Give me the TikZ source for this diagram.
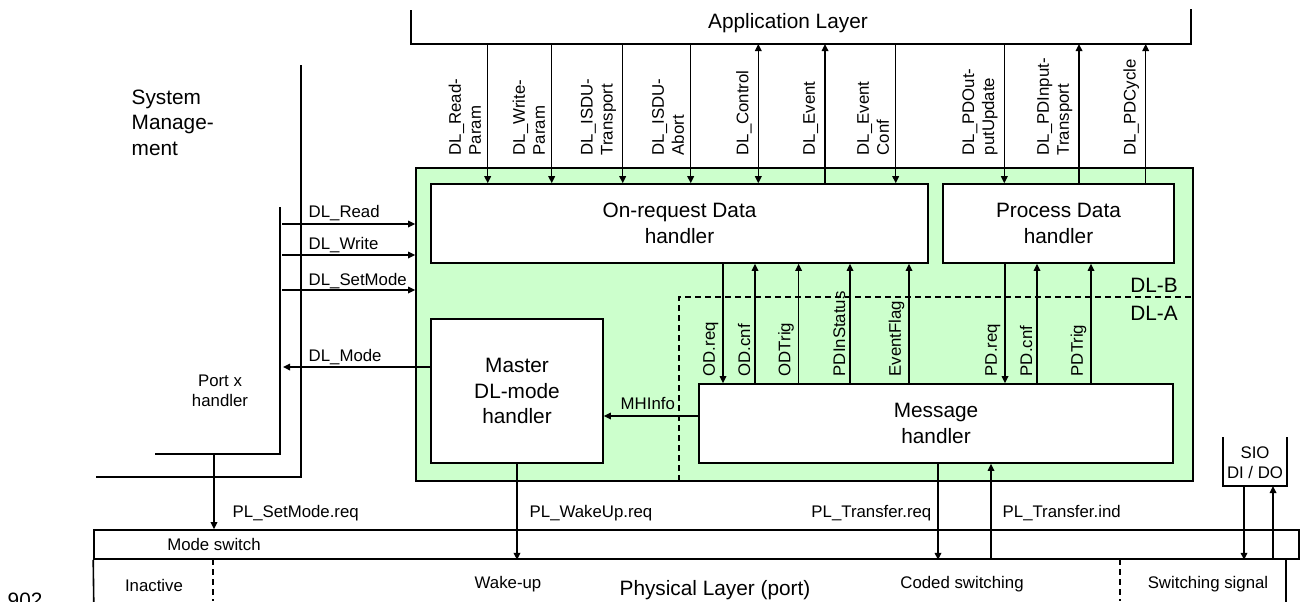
\documentclass[tikz,border=0pt]{standalone}
\usepackage{fontspec}
\setmainfont{Liberation Sans}
\usetikzlibrary{arrows.meta}

\begin{document}
\begin{tikzpicture}[x=0.5pt,y=-0.5pt,line width=0.7pt,>={Triangle[length=3.5pt,width=3.3pt]},
    big_text/.style={font=\fontsize{10.4}{12.75}\selectfont},
    small_text/.style={font=\fontsize{8.4}{10}\selectfont},
    handler_node/.style={draw,line width=0.8pt,fill=white,align=center,inner sep=0pt,big_text},
    sig_label/.style={small_text,rotate=90,anchor=south west,align=left,inner sep=0pt},
    flat_label/.style={small_text,inner sep=0pt},
    layer_sep/.style={dash pattern=on 3pt off 2pt}]
    \useasboundingbox (0,0) rectangle (1311,601);

    % data link layer
    \node[draw,line width=0.8pt,fill=green!20,minimum width=388.5pt,minimum height=156.5pt] (dl) at (804.5,324.5) {};
    \node[handler_node,minimum width=248.5pt,minimum height=39.5pt] (odh) at (679.5,223.5) {On-request Data\\handler};
    \node[handler_node,minimum width=115.5pt,minimum height=39.5pt] (pdh) at (1058.5,223.5) {Process Data\\handler};
    \node[handler_node,minimum width=86pt,minimum height=72pt] (master) at (517,391) {Master\\DL-mode\\handler};
    \node[handler_node,minimum width=237pt,minimum height=39.5pt] (mh) at (936,423.5) {Message\\handler};
    \draw[layer_sep] (679,481) -- (679,297) -- (1193,297);
    \node[big_text,anchor=east] (dlb) at (1185,285) {DL-B};
    \node[big_text,anchor=east] (dla) at (1185,313) {DL-A};

    % application layer
    \draw[line width=0.8pt] (411,10) -- (411,44) -- (1191,44) -- (1191,9);
    \node[big_text] (app) at (788,23) {Application Layer};

    \coordinate (rp) at (487.7,44);
    \coordinate (wp) at (551.7,44);
    \coordinate (it) at (622.7,44);
    \coordinate (ia) at (690.7,44);
    \coordinate (ctl) at (758.3,44);
    \coordinate (ev) at (825,44);
    \coordinate (evc) at (895.7,44);
    \coordinate (pdo) at (1004.3,44);
    \coordinate (pdi) at (1079,44);
    \coordinate (pdc) at (1145.7,44);
    \draw[->] (rp) -- (rp |- odh.north);
    \draw[->] (wp) -- (wp |- odh.north);
    \draw[->] (it) -- (it |- odh.north);
    \draw[->] (ia) -- (ia |- odh.north);
    \draw[<->] (ctl) -- (ctl |- odh.north);
    \draw[->] (ev |- odh.north) -- (ev);
    \draw[->] (evc) -- (evc |- odh.north);
    \draw[->] (pdo) -- (pdo |- pdh.north);
    \draw[->] (pdi |- pdh.north) -- (pdi);
    \draw[->] (pdc |- pdh.north) -- (pdc);
    \node[sig_label] at (481.7,156) {DL\_Read-\\Param};
    \node[sig_label] at (545.7,156) {DL\_Write-\\Param};
    \node[sig_label] at (616.7,156) {DL\_ISDU-\\Transport};
    \node[sig_label] at (684.7,156) {DL\_ISDU-\\Abort};
    \node[sig_label] at (752.3,156) {DL\_Control};
    \node[sig_label] at (819,156) {DL\_Event};
    \node[sig_label] at (889.7,156) {DL\_Event\\Conf};
    \node[sig_label] at (998.3,156) {DL\_PDOut-\\putUpdate};
    \node[sig_label] at (1073,156) {DL\_PDInput-\\Transport};
    \node[sig_label] at (1139.7,156) {DL\_PDCycle};

    % handler to message handler
    \coordinate (odreq) at (723,0);
    \coordinate (odcnf) at (755,0);
    \coordinate (odtrig) at (798.6,0);
    \coordinate (pdin) at (850,0);
    \coordinate (evf) at (909,0);
    \coordinate (pdreq) at (1005,0);
    \coordinate (pdcnf) at (1037,0);
    \coordinate (pdtrig) at (1091,0);
    \draw[->] (odreq |- odh.south) -- (odreq |- mh.north);
    \draw[->] (odcnf |- mh.north) -- (odcnf |- odh.south);
    \draw[->] (odtrig |- mh.north) -- (odtrig |- odh.south);
    \draw[->] (pdin |- mh.north) -- (pdin |- odh.south);
    \draw[->] (evf |- mh.north) -- (evf |- odh.south);
    \draw[->] (pdreq |- pdh.south) -- (pdreq |- mh.north);
    \draw[->] (pdcnf |- mh.north) -- (pdcnf |- pdh.south);
    \draw[->] (pdtrig |- mh.north) -- (pdtrig |- pdh.south);
    \node[sig_label] at (719,377) {OD.req};
    \node[sig_label] at (751,377) {OD.cnf};
    \node[sig_label] at (794.6,377) {ODTrig};
    \node[sig_label] at (846,377) {PDInStatus};
    \node[sig_label] at (905,377) {EventFlag};
    \node[sig_label] at (1001,377) {PD.req};
    \node[sig_label] at (1033,377) {PD.cnf};
    \node[sig_label] at (1087,377) {PDTrig};

    % system management and port x handler
    \node[big_text,align=left,anchor=west,inner sep=0pt] (sysman) at (131,122.5) {System\\Manage-\\ment};
    \draw (301,65) -- (301,477) -- (96,477);
    \draw (280,207) -- (280,454) -- (155,454);
    \node[small_text,align=center] (port) at (220,390.5) {Port x\\handler};
    \coordinate (rd) at (282,224);
    \coordinate (wr) at (282,255);
    \coordinate (setm) at (282,290);
    \coordinate (dlm) at (283,367);
    \coordinate (mhi) at (0,416);
    \draw[->] (rd) -- (rd -| dl.west);
    \draw[->] (wr) -- (wr -| dl.west);
    \draw[->] (setm) -- (setm -| dl.west);
    \draw[->] (dlm -| master.west) -- (dlm);
    \draw[->] (mhi -| mh.west) -- (mhi -| master.east);
    \node[flat_label,anchor=base west] at (308,217) {DL\_Read};
    \node[flat_label,anchor=base west] at (308,249) {DL\_Write};
    \node[flat_label,anchor=base west] at (308,285) {DL\_SetMode};
    \node[flat_label,anchor=base west] at (308,361) {DL\_Mode};
    \node[flat_label,anchor=base west] at (620,409) {MHInfo};

    % physical layer
    \node[draw,line width=0.8pt,minimum width=602.5pt,minimum height=14.5pt,inner sep=0pt] (bar) at (696.5,544.5) {};
    \draw[line width=0.8pt] (bar.south west) -- (94,620);
    \draw[line width=0.8pt] (1286,559) -- (1286,620);
    \draw[layer_sep] (213,559) -- (213,601);
    \draw[layer_sep] (1120,559) -- (1120,601);
    \node[small_text] (msw) at (214,544) {Mode switch};
    \node[small_text] (inact) at (154,585) {Inactive};
    \node[small_text] (wake) at (508,584) {Wake-up};
    \node[big_text] (phy) at (715,590) {Physical Layer (port)};
    \node[small_text] (coded) at (962,584) {Coded switching};
    \node[small_text] (swsig) at (1208,584) {Switching signal};
    \node[big_text,anchor=base west,inner sep=0pt] (fig) at (7,607) {902};

    \coordinate (psm) at (214,454);
    \coordinate (ptr) at (938,0);
    \coordinate (pti) at (991,0);
    \draw[->] (psm) -- (psm |- bar.north);
    \draw[->] (master.south) -- (master.south |- bar.south);
    \draw[->] (ptr |- mh.south) -- (ptr |- bar.south);
    \draw[->] (pti |- bar.south) -- (pti |- mh.south);
    \node[flat_label,anchor=base west] at (232,517) {PL\_SetMode.req};
    \node[flat_label,anchor=base west] at (529,517) {PL\_WakeUp.req};
    \node[flat_label,anchor=base east] at (932,517) {PL\_Transfer.req};
    \node[flat_label,anchor=base west] at (1002,517) {PL\_Transfer.ind};

    % SIO
    \draw[line width=0.8pt] (1223,437) -- (1223,486) -- (1287,486) -- (1287,437);
    \node[small_text,align=center] (sio) at (1255,463) {SIO\\DI / DO};
    \coordinate (sdo) at (1244,486);
    \coordinate (sdi) at (1273,486);
    \draw[->] (sdo) -- (sdo |- bar.south);
    \draw[->] (sdi |- bar.south) -- (sdi);
\end{tikzpicture}
\end{document}
